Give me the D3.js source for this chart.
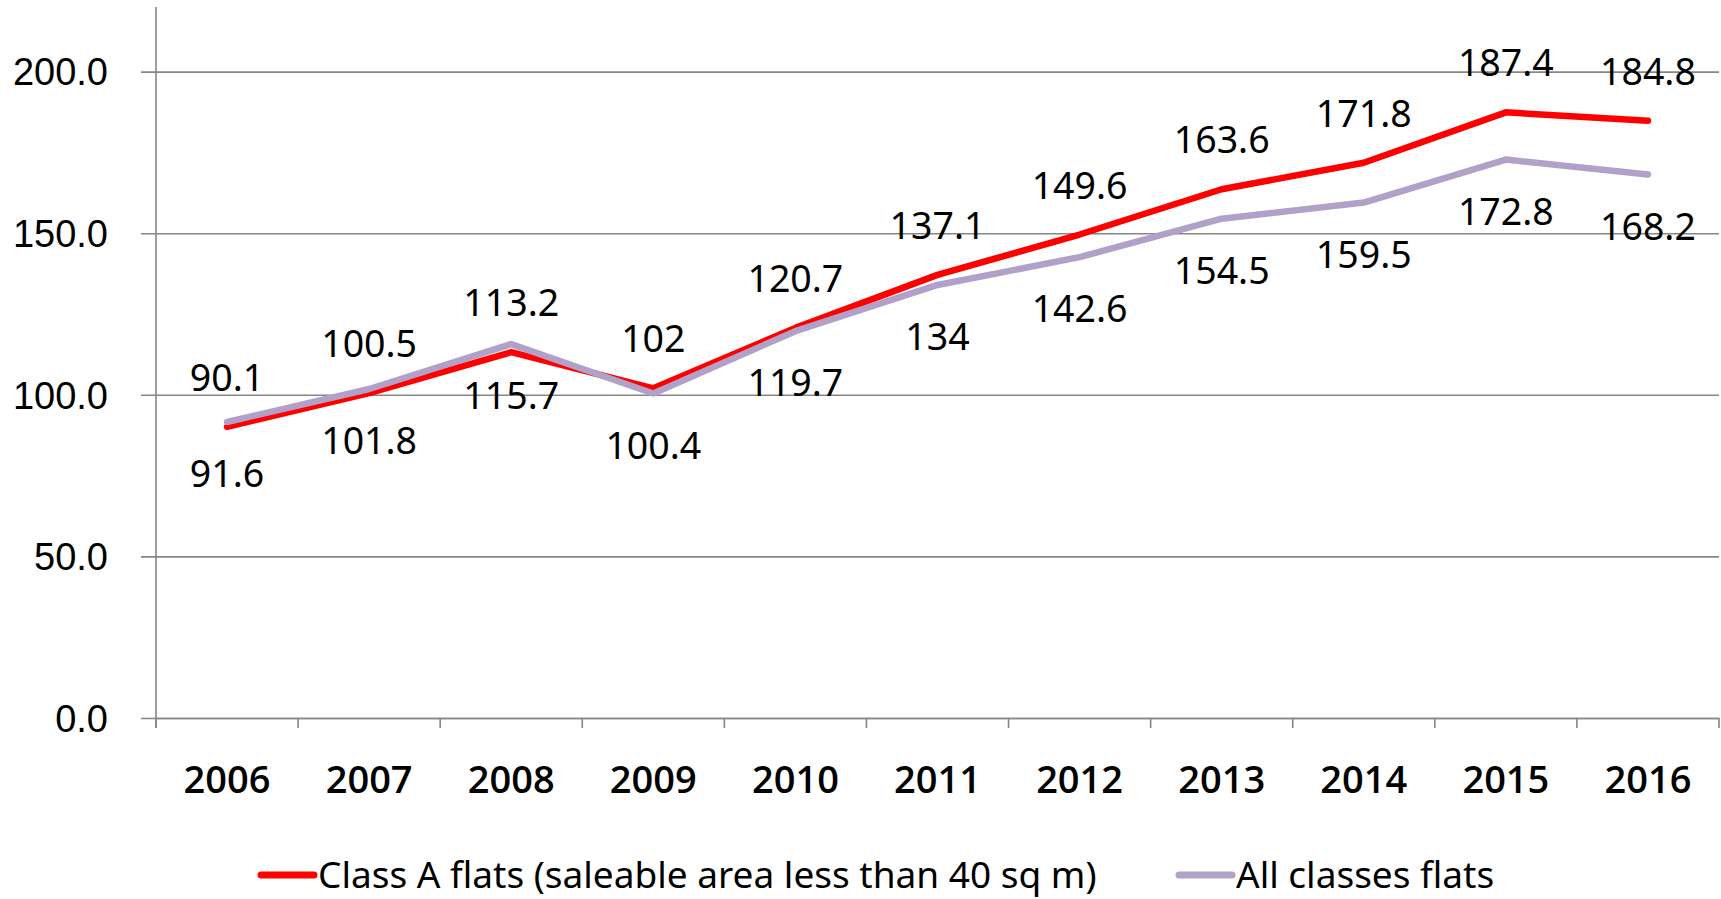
<!DOCTYPE html>
<html>
<head>
<meta charset="utf-8">
<script src="https://cdn.jsdelivr.net/npm/d3@7"></script>
<style>
  html, body { margin: 0; padding: 0; background: #fff; }
  svg { display: block; font-family: "Noto Sans", sans-serif; }
</style>
</head>
<body>
<svg id="chart" width="1721" height="899"></svg>
<script>
// Price index series, 2006–2016
const years = ["2006", "2007", "2008", "2009", "2010", "2011", "2012", "2013", "2014", "2015", "2016"];
const classA = [90.1, 100.5, 113.2, 102, 120.7, 137.1, 149.6, 163.6, 171.8, 187.4, 184.8];
const allClasses = [91.6, 101.8, 115.7, 100.4, 119.7, 134, 142.6, 154.5, 159.5, 172.8, 168.2];
const yTicks = [0, 50, 100, 150, 200];
const seriesNames = ["Class A flats (saleable area less than 40 sq m)", "All classes flats"];
const seriesColors = ["#FF0000", "#B1A0C7"];

const svg = d3.select("#chart");
const margin = { left: 156, right: 2, top: 7, bottom: 181 };
const W = 1721, H = 899;

const x = d3.scaleBand().domain(years).range([margin.left, W - margin.right]);
const y = d3.scaleLinear().domain([0, 220]).range([H - margin.bottom, margin.top]);

const gridColor = "#868686";

// horizontal gridlines with outward ticks
const yAxis = svg.append("g")
  .attr("transform", `translate(${margin.left},0)`)
  .call(d3.axisLeft(y).tickValues(yTicks).tickFormat(d3.format(".1f"))
    .tickSize(-(W - margin.right - margin.left)).tickSizeOuter(0).tickPadding(48));
yAxis.select(".domain").remove();
yAxis.selectAll(".tick line").attr("stroke", gridColor).attr("stroke-width", 1.6).attr("x1", -15);
yAxis.selectAll(".tick text").attr("font-size", 38).attr("fill", "#000").attr("dy", "0.35em");

// vertical axis line
svg.append("line")
  .attr("x1", margin.left).attr("x2", margin.left)
  .attr("y1", margin.top).attr("y2", y(0) + 10)
  .attr("stroke", gridColor).attr("stroke-width", 1.6);

// category axis with boundary ticks
const xAxis = svg.append("g")
  .attr("transform", `translate(0,${y(0)})`)
  .call(d3.axisBottom(x).tickSize(0).tickPadding(48));
xAxis.select(".domain").attr("stroke", gridColor).attr("stroke-width", 1.6);
xAxis.selectAll(".tick text")
  .attr("font-family", "'Open Sans', sans-serif")
  .attr("font-size", 38).attr("font-weight", 600).attr("fill", "#000");
const bounds = years.map(d => x(d)).concat([x(years[years.length - 1]) + x.bandwidth()]);
svg.append("g").selectAll("line").data(bounds).join("line")
  .attr("x1", d => d).attr("x2", d => d)
  .attr("y1", y(0)).attr("y2", y(0) + 10)
  .attr("stroke", gridColor).attr("stroke-width", 1.6);

const cx = d => x(d) + x.bandwidth() / 2;
const line = d3.line().x((d, i) => cx(years[i])).y(d => y(d));

[classA, allClasses].forEach((vals, si) => {
  svg.append("path")
    .datum(vals)
    .attr("d", line)
    .attr("fill", "none")
    .attr("stroke", seriesColors[si])
    .attr("stroke-width", 6.5)
    .attr("stroke-linejoin", "round")
    .attr("stroke-linecap", "round");
});

// value labels: Class A above its line, All classes below
[classA, allClasses].forEach((vals, si) => {
  svg.append("g").selectAll("text").data(vals).join("text")
    .attr("x", (d, i) => cx(years[i]))
    .attr("y", d => y(d) + (si === 0 ? -49 : 52))
    .attr("dy", "0.35em")
    .attr("text-anchor", "middle")
    .attr("font-size", 37.5)
    .attr("fill", "#000")
    .text(d => d);
});

// legend
const legendY = 875;
const legendItems = [
  { x1: 261, x2: 314, tx: 318 },
  { x1: 1179, x2: 1232, tx: 1236 }
];
legendItems.forEach((it, i) => {
  svg.append("line")
    .attr("x1", it.x1).attr("x2", it.x2)
    .attr("y1", legendY).attr("y2", legendY)
    .attr("stroke", seriesColors[i]).attr("stroke-width", 7)
    .attr("stroke-linecap", "round");
  svg.append("text")
    .attr("x", it.tx).attr("y", legendY).attr("dy", "0.35em")
    .attr("font-size", 37).attr("fill", "#000")
    .text(seriesNames[i]);
});
</script>
</body>
</html>
